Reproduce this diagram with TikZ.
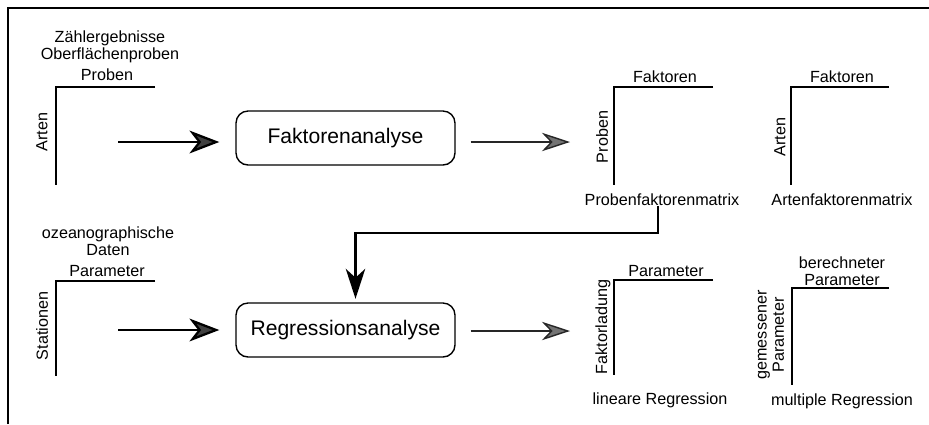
\documentclass[tikz,border=0pt]{standalone}
\usepackage{fontspec}
\setmainfont{Liberation Sans}
\usetikzlibrary{arrows.meta}

\tikzset{
  txt/.style={font=\fontsize{9.2}{9.9}\selectfont, align=center, inner sep=0pt},
  procbox/.style={draw, line width=0.8pt, rounded corners=0.24cm,
    minimum width=4.38cm, minimum height=1.08cm,
    font=\fontsize{12}{14}\selectfont},
  axis/.style={line width=0.6pt},
  bigarrow/.style={line width=1.3pt, -{Stealth[length=17pt, width=13pt, inset=5pt, fill=black!75]}},
  thinarrow/.style={line width=0.8pt, black!85, -{Stealth[length=16pt, width=10.5pt, inset=5pt, fill=black!55]}},
  feedarrow/.style={line width=1.6pt, -{Stealth[length=17pt, width=11pt, inset=5pt]}}
}

\begin{document}
\begin{tikzpicture}[x=0.02cm, y=-0.02cm]
\useasboundingbox (0,0) rectangle (929,424);

% frame
\draw[line width=0.6pt] (8,424) -- (8,8) -- (929,8);

% input matrices
\node[txt] (zaehl) at (110,47) {Zählergebnisse\\Oberflächenproben};
\node[txt] (proben) at (107,75) {Proben};
\node[txt, rotate=90] (arten) at (42,132) {Arten};
\draw[axis] (155,87) -| (56,185);

\node[txt] (ozean) at (108,241) {ozeanographische\\Daten};
\node[txt] (param) at (107,271) {Parameter};
\node[txt, rotate=90] (stat) at (42,326) {Stationen};
\draw[axis] (155,281) -| (56,376);

% analyses
\node[procbox] (fa) at (345.5,138) {Faktorenanalyse};
\node[procbox] (reg) at (345.5,330) {Regressionsanalyse};

\coordinate (in1) at (118,142);
\coordinate (in2) at (118,330);
\coordinate (out1) at (570,142);
\coordinate (out2) at (570,331);
\draw[bigarrow, shorten >=0.32cm] (in1) -- (in1 -| fa.west);
\draw[bigarrow, shorten >=0.32cm] (in2) -- (in2 -| reg.west);
\draw[thinarrow, shorten <=0.3cm] (out1 -| fa.east) -- (out1);
\draw[thinarrow, shorten <=0.3cm] (out2 -| reg.east) -- (out2);

% factor matrices
\node[txt] (fak1) at (665,77) {Faktoren};
\node[txt, rotate=90] (prob2) at (602,137) {Proben};
\draw[axis] (713,87) -| (614,185);
\node[txt] (pfm) at (662,200) {Probenfaktorenmatrix};

\node[txt] (fak2) at (842,77) {Faktoren};
\node[txt, rotate=90] (arten2) at (780,137) {Arten};
\draw[axis] (889,87) -| (791,185);
\node[txt] (afm) at (842,200) {Artenfaktorenmatrix};

% feedback
\draw[feedarrow, line join=miter, shorten >=2pt] (pfm.south -| 658,0) -- (658,233) -| ([xshift=0.2cm]reg.north);

% regression results
\node[txt] (param2) at (666,271) {Parameter};
\node[txt, rotate=90] (fl) at (603,327) {Faktorladung};
\draw[axis] (713,280) -| (614,375);
\node[txt] (linreg) at (660,400) {lineare Regression};

\node[txt] (berech) at (842,271) {berechneter\\Parameter};
\node[txt, rotate=90] (gemess) at (771,335) {gemessener\\Parameter};
\draw[axis] (889,288) -| (792,385);
\node[txt] (multreg) at (842,401) {multiple Regression};

\end{tikzpicture}
\end{document}
